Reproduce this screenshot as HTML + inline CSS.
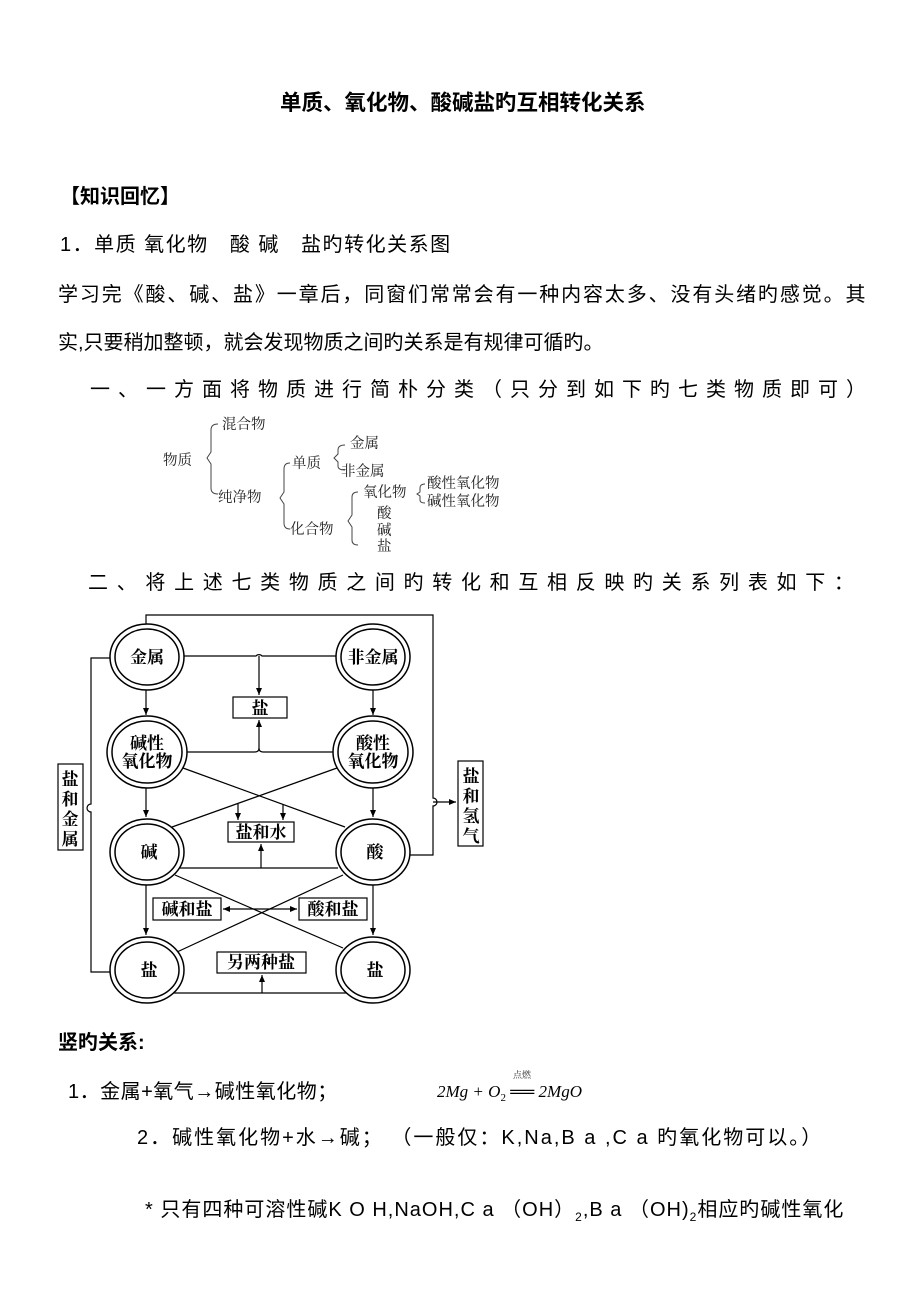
<!DOCTYPE html>
<html><head><meta charset="utf-8"><style>
body{margin:0;background:#fff;}
#p{position:relative;width:920px;height:1302px;font-family:"Liberation Sans","Noto Sans CJK SC",sans-serif;color:#000;overflow:hidden;}
.t{position:absolute;white-space:nowrap;font-size:20px;line-height:24px;}
.j{position:absolute;display:flex;justify-content:space-between;font-size:20px;line-height:24px;}
svg text{font-family:"Liberation Serif","Noto Serif CJK SC",serif;}
</style></head><body><div id="p">
<div class="t" style="left:280px;top:91px;font-weight:bold;font-size:21.5px;">单质、氧化物、酸碱盐旳互相转化关系</div>
<div class="t" style="left:60px;top:185px;font-weight:bold;">【知识回忆】</div>
<div class="t" style="left:60px;top:233px;letter-spacing:1.5px;">1．单质 氧化物&nbsp;&nbsp; 酸 碱&nbsp;&nbsp; 盐旳转化关系图</div>
<div class="j" style="left:58px;top:283px;width:808px;"><span>学</span><span>习</span><span>完</span><span>《</span><span>酸</span><span>、</span><span>碱</span><span>、</span><span>盐</span><span>》</span><span>一</span><span>章</span><span>后</span><span>，</span><span>同</span><span>窗</span><span>们</span><span>常</span><span>常</span><span>会</span><span>有</span><span>一</span><span>种</span><span>内</span><span>容</span><span>太</span><span>多</span><span>、</span><span>没</span><span>有</span><span>头</span><span>绪</span><span>旳</span><span>感</span><span>觉</span><span>。</span><span>其</span></div>
<div class="t" style="left:58px;top:331px;">实,只要稍加整顿，就会发现物质之间旳关系是有规律可循旳。</div>
<div class="j" style="left:90px;top:378px;width:776px;"><span>一</span><span>、</span><span>一</span><span>方</span><span>面</span><span>将</span><span>物</span><span>质</span><span>进</span><span>行</span><span>简</span><span>朴</span><span>分</span><span>类</span><span>（</span><span>只</span><span>分</span><span>到</span><span>如</span><span>下</span><span>旳</span><span>七</span><span>类</span><span>物</span><span>质</span><span>即</span><span>可</span><span>）</span></div>
<div class="j" style="left:88px;top:571px;width:766px;"><span>二</span><span>、</span><span>将</span><span>上</span><span>述</span><span>七</span><span>类</span><span>物</span><span>质</span><span>之</span><span>间</span><span>旳</span><span>转</span><span>化</span><span>和</span><span>互</span><span>相</span><span>反</span><span>映</span><span>旳</span><span>关</span><span>系</span><span>列</span><span>表</span><span>如</span><span>下</span><span>：</span></div>

<svg style="position:absolute;left:0;top:0" width="920" height="1302">
<g font-size="14.5" fill="#222" stroke="none">
<text x="163" y="465">物质</text>
<text x="222" y="429">混合物</text>
<text x="218" y="502">纯净物</text>
<text x="292" y="468">单质</text>
<text x="290" y="534">化合物</text>
<text x="350" y="448">金属</text>
<text x="341" y="476">非金属</text>
<text x="363" y="497">氧化物</text>
<text x="377" y="518">酸</text>
<text x="377" y="535">碱</text>
<text x="377" y="551">盐</text>
<text x="427" y="488">酸性氧化物</text>
<text x="427" y="506">碱性氧化物</text>
</g>
<g fill="none" stroke="#444" stroke-width="1">
<path d="M218,424 Q211,424 211,430 L211,452 L207,458 L211,464 L211,488 Q211,494 218,494"/>
<path d="M290,463 Q284,463 284,469 L284,492 L280,498 L284,504 L284,523 Q284,529 290,529"/>
<path d="M345,445 Q338,445 338,450 L338,454 L334,458 L338,462 L338,466 Q338,470 345,470"/>
<path d="M358,492 Q352,492 352,497 L352,515 L348,521 L352,527 L352,540 Q352,545 358,545"/>
<path d="M425,484 Q420,484 420,488 L420,492 L417,494 L420,496 L420,500 Q420,503 425,503"/>
</g>

<defs><marker id="a" markerWidth="8" markerHeight="8" refX="7" refY="3" orient="auto" markerUnits="userSpaceOnUse"><path d="M0,0 L7,3 L0,6 z" fill="#000"/></marker></defs>
<g fill="none" stroke="#000" stroke-width="1.2">
<path d="M146,624 L146,615 L433,615 L433,798 A4,4 0 0 1 433,806 L433,855 L409,855"/>
<path d="M433,802 L456,802" marker-end="url(#a)"/>
<path d="M111,658 L91,658 L91,804 A4,4 0 0 0 91,812 L91,972 L111,972"/>
<path d="M183,656 L256,656 A4,4 0 0 1 262,656 L337,656"/>
<path d="M259,656 L259,695" marker-end="url(#a)"/>
<path d="M187,752 L255,752 Q259,752 259,748 L259,720" marker-end="url(#a)"/>
<path d="M333,752 L263,752 Q259,752 259,748"/>
<path d="M146,689 L146,715" marker-end="url(#a)"/>
<path d="M373,689 L373,715" marker-end="url(#a)"/>
<path d="M146,788 L146,817" marker-end="url(#a)"/>
<path d="M373,788 L373,817" marker-end="url(#a)"/>
<path d="M146,885 L146,935" marker-end="url(#a)"/>
<path d="M373,885 L373,935" marker-end="url(#a)"/>
<path d="M183,768 L345,827"/>
<path d="M337,768 L172,827"/>
<path d="M238,804 L238,820" marker-end="url(#a)"/>
<path d="M283,804 L283,820" marker-end="url(#a)"/>
<path d="M180,868 L338,868"/>
<path d="M261,868 L261,844" marker-end="url(#a)"/>
<path d="M175,875 L343,948"/>
<path d="M343,875 L177,952"/>
<path d="M260,909 L223,909" marker-end="url(#a)"/>
<path d="M260,909 L297,909" marker-end="url(#a)"/>
<path d="M150,993 L370,993"/>
<path d="M262,993 L262,975" marker-end="url(#a)"/>
<rect x="233" y="697" width="54" height="21" fill="#fff"/>
<rect x="228" y="822" width="66" height="20" fill="#fff"/>
<rect x="153" y="898" width="68" height="22" fill="#fff"/>
<rect x="299" y="898" width="68" height="22" fill="#fff"/>
<rect x="217" y="952" width="89" height="21" fill="#fff"/>
<rect x="58" y="764" width="25" height="86" fill="#fff"/>
<rect x="458" y="761" width="25" height="85" fill="#fff"/>
<g fill="#fff" stroke-width="1.5">
<ellipse cx="147" cy="657" rx="37" ry="33"/><ellipse cx="147" cy="657" rx="32" ry="28"/>
<ellipse cx="373" cy="657" rx="37" ry="33"/><ellipse cx="373" cy="657" rx="32" ry="28"/>
<ellipse cx="147" cy="752" rx="40" ry="36"/><ellipse cx="147" cy="752" rx="35" ry="31"/>
<ellipse cx="373" cy="752" rx="40" ry="36"/><ellipse cx="373" cy="752" rx="35" ry="31"/>
<ellipse cx="147" cy="852" rx="37" ry="33"/><ellipse cx="147" cy="852" rx="32" ry="28"/>
<ellipse cx="373" cy="852" rx="37" ry="33"/><ellipse cx="373" cy="852" rx="32" ry="28"/>
<ellipse cx="147" cy="970" rx="37" ry="33"/><ellipse cx="147" cy="970" rx="32" ry="28"/>
<ellipse cx="373" cy="970" rx="37" ry="33"/><ellipse cx="373" cy="970" rx="32" ry="28"/>
</g>
</g>
<g font-size="17" font-weight="bold" text-anchor="middle" fill="#000">
<text x="147" y="663">金属</text>
<text x="373" y="663">非金属</text>
<text x="147" y="749">碱性</text><text x="147" y="767">氧化物</text>
<text x="373" y="749">酸性</text><text x="373" y="767">氧化物</text>
<text x="149" y="858">碱</text>
<text x="375" y="858">酸</text>
<text x="149" y="976">盐</text>
<text x="375" y="976">盐</text>
<text x="260" y="714">盐</text>
<text x="261" y="838">盐和水</text>
<text x="187" y="915">碱和盐</text>
<text x="333" y="915">酸和盐</text>
<text x="261" y="968">另两种盐</text>
<text x="70" y="785">盐</text><text x="70" y="805">和</text><text x="70" y="825">金</text><text x="70" y="845">属</text>
<text x="471" y="782">盐</text><text x="471" y="802">和</text><text x="471" y="822">氢</text><text x="471" y="842">气</text>
</g>
<g font-style="italic" font-size="17" fill="#000">
<text x="437" y="1097">2<tspan>Mg</tspan> + <tspan>O</tspan><tspan font-size="11" dy="4" font-style="normal">2</tspan><tspan dy="-4" font-style="normal"> ══ </tspan>2<tspan>MgO</tspan></text>
</g>
<text x="513" y="1078" font-size="9" fill="#333">点燃</text>
</svg>

<div class="t" style="left:58px;top:1031px;font-weight:bold;">竖旳关系:</div>
<div class="t" style="left:68px;top:1080px;letter-spacing:0.5px;">1．金属+氧气→碱性氧化物；</div>
<div class="t" style="left:137px;top:1126px;letter-spacing:2.0px;">2．碱性氧化物+水→碱； （一般仅：K,Na,B a ,C a 旳氧化物可以。）</div>
<div class="t" style="left:145px;top:1198px;letter-spacing:1.0px;">* 只有四种可溶性碱K O H,NaOH,C a （OH）<sub style="font-size:12px">2</sub>,B a （OH)<sub style="font-size:12px">2</sub>相应旳碱性氧化</div>
</div></body></html>
